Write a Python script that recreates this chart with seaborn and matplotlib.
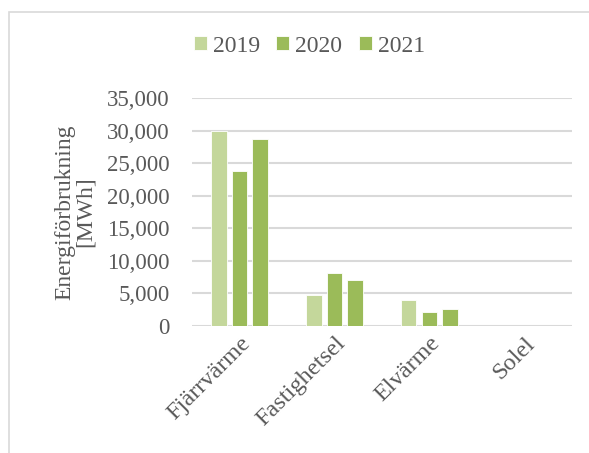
import pandas as pd
import matplotlib.pyplot as plt
import seaborn as sns
from matplotlib.patches import Rectangle

categories = ['Fjärrvärme', 'Fastighetsel', 'Elvärme', 'Solel']
years = ['2019', '2020', '2021']
values_2019 = [30000, 4800, 4000, 30]
values_2020 = [23800, 8100, 2200, 30]
values_2021 = [28700, 7100, 2600, 30]
colors = ['#C4D79B', '#9BBB59', '#9BBB59']

df = pd.DataFrame({
    'Kategori': categories * 3,
    'År': [y for y in years for _ in categories],
    'Energi': values_2019 + values_2020 + values_2021,
})

sns.set_theme(style='white')
plt.rcParams['font.family'] = ['Liberation Serif', 'DejaVu Serif']
text_color = '#595959'

fig = plt.figure(figsize=(5.89, 4.53), dpi=100)
ax = fig.add_axes([0.326, 0.2804, 0.645, 0.5033])

sns.barplot(data=df, x='Kategori', y='Energi', hue='År', palette=dict(zip(years, colors)),
            saturation=1, width=0.66, gap=0.24, edgecolor='white', linewidth=0.6,
            ax=ax, zorder=3)

ax.set_ylim(0, 35000)
ax.set_yticks(range(0, 35001, 5000))
ax.set_yticklabels([f'{v:,}' for v in range(0, 35001, 5000)])
ax.yaxis.grid(True, color='#D9D9D9', linewidth=1.5, zorder=0)
ax.set_axisbelow(True)
for s in ax.spines.values():
    s.set_visible(False)
ax.tick_params(axis='both', length=0, labelsize=16.5, colors=text_color, pad=4)
ax.tick_params(axis='x', labelsize=17.5, pad=5)
ax.tick_params(axis='y', pad=16)
plt.setp(ax.get_xticklabels(), rotation=45, ha='right', rotation_mode='anchor')
ax.set_xlabel('')
ax.set_ylabel('Energiförbrukning\n[MWh]', fontsize=17, color=text_color, labelpad=8,
              linespacing=1.0)

ax.legend(loc='center', bbox_to_anchor=(0.525, 0.898), bbox_transform=fig.transFigure,
          ncol=3, frameon=False, fontsize=17, handlelength=0.55, handleheight=0.55,
          handletextpad=0.25, columnspacing=0.7, labelcolor=text_color)

fig.patches.append(Rectangle((9 / 589, -0.1), 1.2, 1 - 12 / 453 + 0.1, transform=fig.transFigure,
                             fill=False, edgecolor='#D9D9D9', linewidth=1.2))

fig.savefig('out.png', dpi=100)
